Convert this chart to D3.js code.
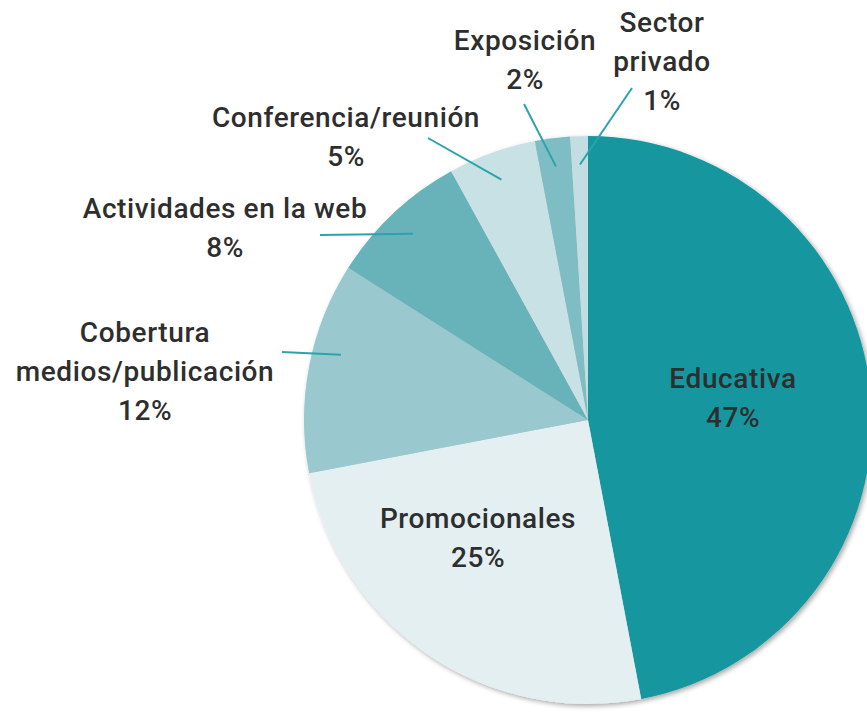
<!DOCTYPE html>
<html>
<head>
<meta charset="utf-8">
<script src="https://cdn.jsdelivr.net/npm/d3@7"></script>
<style>
  body { margin: 0; background: #fff; }
  svg { display: block; }
  .label { font-family: Roboto, "Open Sans", sans-serif; font-size: 28px; font-weight: 500; letter-spacing: 0.6px; fill: #2e2e2e; }
  .leader { stroke: #2aa3ad; stroke-width: 2; }
</style>
</head>
<body>
<div id="chart"></div>
<script>
// Data
const categories = ["Educativa", "Promocionales", "Cobertura medios/publicación",
  "Actividades en la web", "Conferencia/reunión", "Exposición", "Sector privado"];
const values = [47, 25, 12, 8, 5, 2, 1];
const labelLines = [
  ["Educativa"], ["Promocionales"], ["Cobertura", "medios/publicación"],
  ["Actividades en la web"], ["Conferencia/reunión"], ["Exposición"], ["Sector", "privado"]
];
const colors = ["#14979f", "#e3eff1", "#99c8ce", "#68b2ba", "#c8e1e5", "#7fbdc4", "#c3dee2"];

// Layout (label anchor relative to pie centre, leader line outer end, angle nudge)
const layout = [
  { lx: 145, ly: -32, inside: true },
  { lx: -110, ly: 108, inside: true },
  { lx: -443, ly: -78, line: [-306, -68], nudge: 4 },
  { lx: -363, ly: -202, line: [-268, -185] },
  { lx: -242, ly: -293, line: [-160, -282] },
  { lx: -63, ly: -370, line: [-64, -316] },
  { lx: 74, ly: -388, line: [44, -332] }
];

const width = 867, height = 714;
const cx = 588, cy = 420, radius = 284;
const lineHeight = 39;

const svg = d3.select("#chart").append("svg")
    .attr("width", width)
    .attr("height", height);

const defs = svg.append("defs");
const shadow = defs.append("filter").attr("id", "shadow")
    .attr("x", "-10%").attr("y", "-10%").attr("width", "120%").attr("height", "120%");
shadow.append("feDropShadow")
    .attr("dx", 2).attr("dy", 2).attr("stdDeviation", 2.5)
    .attr("flood-color", "#000").attr("flood-opacity", 0.35);

const g = svg.append("g")
    .attr("transform", "translate(" + cx + "," + cy + ")");

const pie = d3.pie().sort(null).value(d => d);
const arcs = pie(values);

const arc = d3.arc().innerRadius(0).outerRadius(radius);

g.append("g")
    .attr("filter", "url(#shadow)")
  .selectAll("path")
  .data(arcs)
  .join("path")
    .attr("d", arc)
    .attr("fill", (d, i) => colors[i]);

// Leader lines
arcs.forEach((d, i) => {
  const lay = layout[i];
  if (!lay.line) return;
  const a = (d.startAngle + d.endAngle) / 2 + (lay.nudge || 0) * Math.PI / 180;
  const rr = radius * 0.9;
  const ix = rr * Math.sin(a), iy = -rr * Math.cos(a);
  g.append("line")
      .attr("class", "leader")
      .attr("x1", lay.line[0]).attr("y1", lay.line[1])
      .attr("x2", ix).attr("y2", iy);
});

// Labels
arcs.forEach((d, i) => {
  const lay = layout[i];
  const lines = labelLines[i].concat([values[i] + "%"]);
  const t = g.append("text")
      .attr("class", "label")
      .attr("text-anchor", "middle")
      .attr("x", lay.lx)
      .attr("y", lay.ly);
  lines.forEach((s, k) => {
    t.append("tspan")
        .attr("x", lay.lx)
        .attr("dy", k === 0 ? 0 : lineHeight)
        .text(s);
  });
});
</script>
</body>
</html>
